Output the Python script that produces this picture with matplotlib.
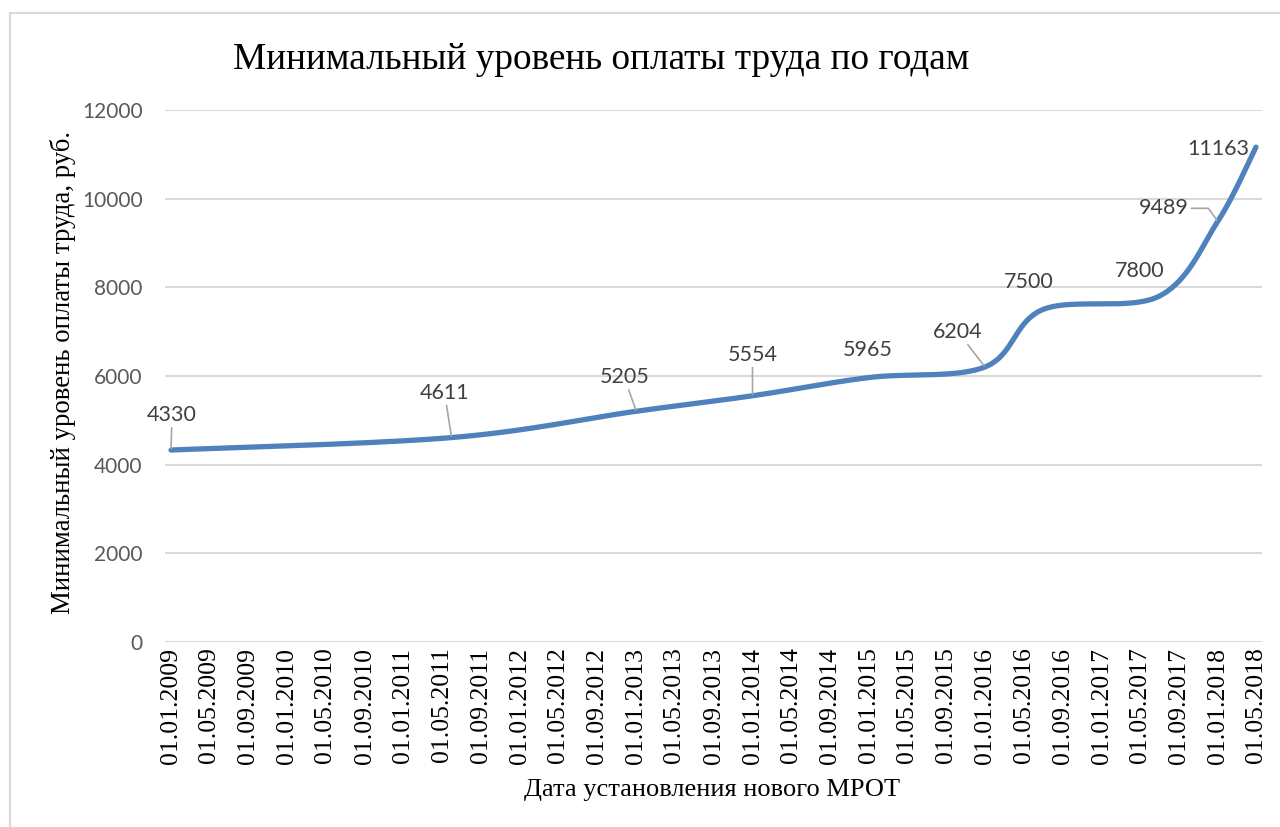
import matplotlib
matplotlib.use("Agg")
import matplotlib.pyplot as plt
import matplotlib.dates as mdates
from matplotlib.patches import Rectangle
import numpy as np
from datetime import date

# данные МРОТ
dates = [date(2009, 1, 1), date(2011, 6, 1), date(2013, 1, 1), date(2014, 1, 1),
         date(2015, 1, 1), date(2016, 1, 1), date(2016, 7, 1), date(2017, 7, 1),
         date(2018, 1, 1), date(2018, 5, 1)]
values = [4330, 4611, 5205, 5554, 5965, 6204, 7500, 7800, 9489, 11163]

# подписи по оси X (каждые 4 месяца)
tick_dates = [date(y, m, 1) for y in range(2009, 2019) for m in (1, 5, 9)]
tick_dates = [d for d in tick_dates if d <= date(2018, 5, 1)]
y_ticks = [0, 2000, 4000, 6000, 8000, 10000, 12000]

title = "Минимальный уровень оплаты труда по годам"
x_title = "Дата установления нового МРОТ"
y_title = "Минимальный уровень оплаты труда, руб."

SERIF = "Liberation Serif"
SANS = "Lato"
BLUE = "#4f81bd"
GRID = "#d9d9d9"


def smooth(x, y, n=40):
    # сглаживание как в Excel (кривые Безье, коэффициент 1/6)
    p = np.column_stack([x, y]).astype(float)
    out = []
    for i in range(len(p) - 1):
        p0 = p[i - 1] if i > 0 else p[i]
        p1, p2 = p[i], p[i + 1]
        p3 = p[i + 2] if i + 2 < len(p) else p[i + 1]
        c1 = p1 + (p2 - p0) / 6
        c2 = p2 - (p3 - p1) / 6
        t = np.linspace(0, 1, n)[:, None]
        seg = ((1 - t) ** 3) * p1 + 3 * ((1 - t) ** 2) * t * c1 + 3 * (1 - t) * t ** 2 * c2 + t ** 3 * p2
        out.append(seg if i == 0 else seg[1:])
    out = np.vstack(out)
    return out[:, 0], out[:, 1]


fig = plt.figure(figsize=(12.8, 8.27), dpi=100)
ax = fig.add_axes([165 / 1280, 1 - 642 / 827, (1262 - 165) / 1280, (642 - 110) / 827])

xn = mdates.date2num(dates)
sx, sy = smooth(xn, values)
ax.plot(sx, sy, color=BLUE, lw=3.8, solid_capstyle="round", zorder=3)

t0 = mdates.date2num(tick_dates[0])
t1 = mdates.date2num(tick_dates[-1])
pad = (t1 - t0) * 6 / 1085
ax.set_xlim(t0 - pad, t1 + pad)
ax.set_ylim(0, 12000)
ax.set_xticks(mdates.date2num(tick_dates))
ax.set_xticklabels([d.strftime("%d.%m.%Y") for d in tick_dates], rotation=90,
                   fontfamily=SERIF, fontsize=18.5, color="black")
ax.set_yticks(y_ticks)
ax.set_yticklabels([str(v) for v in y_ticks], fontfamily=SANS, fontsize=15, color="#595959")
ax.tick_params(axis="both", length=0)
ax.tick_params(axis="y", pad=16)
ax.tick_params(axis="x", pad=4)
ax.grid(axis="y", color=GRID, lw=1.5)
ax.set_axisbelow(True)
for s in ax.spines.values():
    s.set_visible(False)

# подписи данных: смещение (в пикселях) и наличие выноски
offsets = [(1, -35, True), (-7, -45, True), (-12, -34, True), (0, -41, True),
           (-1, -28, False), (-27, -35, True), (-14, -28, False), (-20, -25, False),
           (-54, -13, True), (-38, 2, False)]
for x, v, (dx, dy, lead) in zip(xn, values, offsets):
    kw = {}
    if lead:
        cs = "angle,angleA=0,angleB=126,rad=0" if v == 9489 else "arc3"
        kw["arrowprops"] = dict(arrowstyle="-", color="#a6a6a6", lw=1.2,
                                shrinkA=0, shrinkB=1, connectionstyle=cs)
    ax.annotate(str(v), xy=(x, v), xytext=(dx * 0.72, -dy * 0.72), textcoords="offset points",
                ha="center", va="center", fontfamily=SANS, fontsize=15.5, color="#404040",
                zorder=4, **kw)

fig.text(601 / 1280, 1 - 60 / 827, title, ha="center", va="center",
         fontfamily=SERIF, fontsize=26.8)
fig.text(712 / 1280, 1 - 790 / 827, x_title, ha="center", va="center",
         fontfamily=SERIF, fontsize=19)
fig.text(63 / 1280, 1 - 373 / 827, y_title, ha="center", va="center", rotation=90,
         fontfamily=SERIF, fontsize=19.3)

fig.add_artist(Rectangle((10 / 1280, -0.01), 1.0, 1 - 13 / 827 + 0.01,
                         transform=fig.transFigure, fill=False, ec=GRID, lw=1.5))

fig.savefig("out.png", dpi=100)
